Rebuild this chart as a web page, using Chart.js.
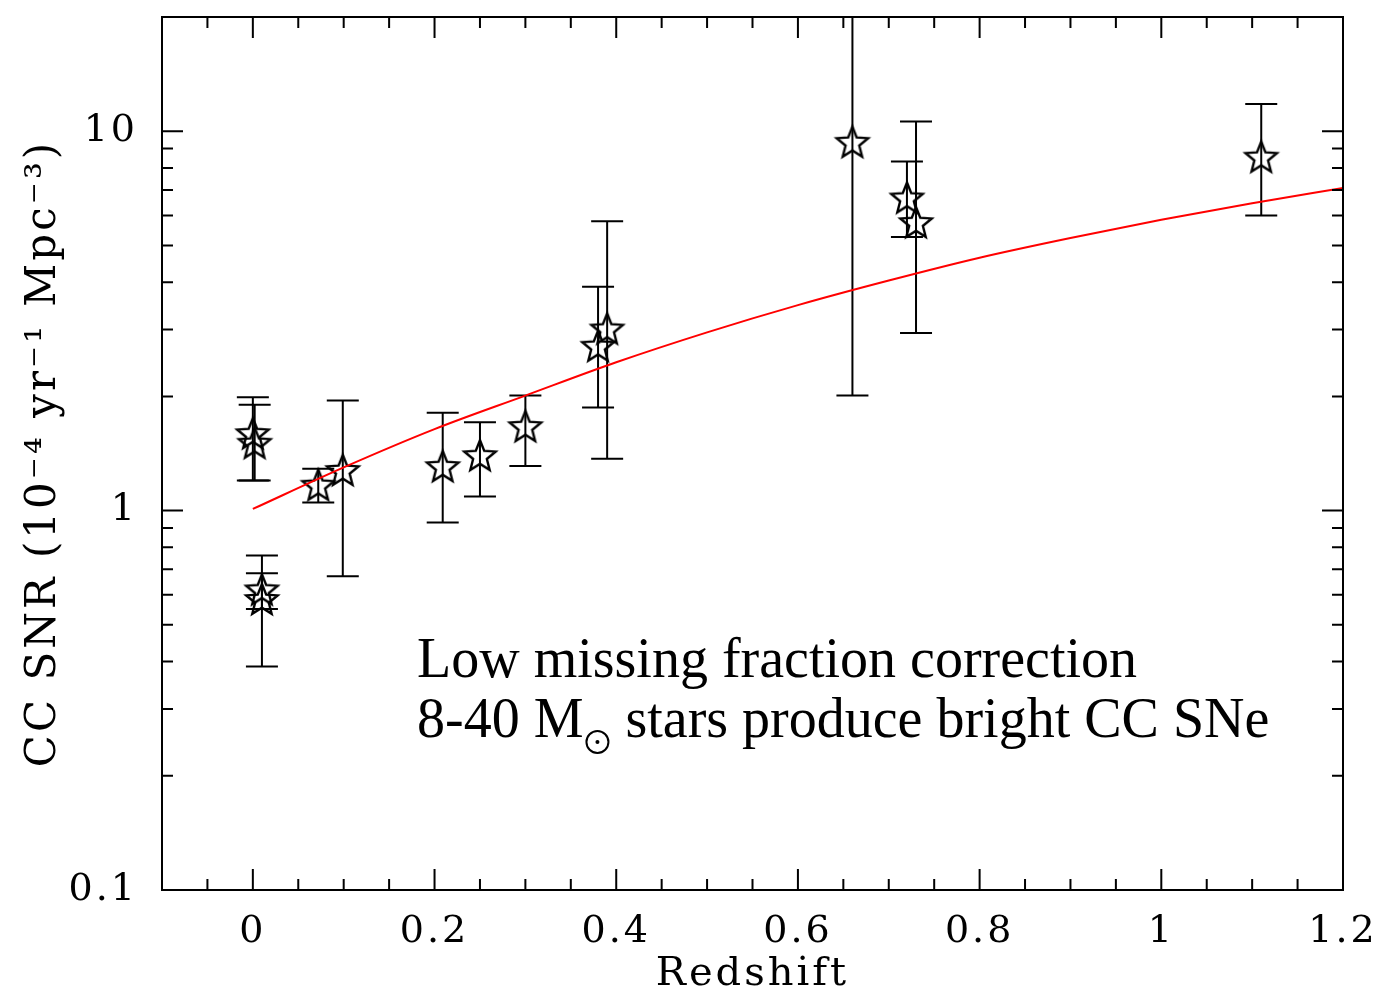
<!DOCTYPE html>
<html>
<head>
<meta charset="utf-8">
<title>CC SNR vs redshift</title>
<script src="https://cdn.jsdelivr.net/npm/chart.js@4.4.1/dist/chart.umd.min.js"></script>
<style>
  html, body { margin: 0; padding: 0; background: #fff; }
</style>
</head>
<body>
<canvas id="snrChart" width="1387" height="997"></canvas>
<script>
// Measured core-collapse SN rates, units of 1e-4 yr^-1 Mpc^-3
const redshift = [0.000, 0.002, 0.010, 0.010, 0.072, 0.099, 0.209, 0.250, 0.300, 0.380, 0.390, 0.660, 0.720, 0.730, 1.110];
const rate     = [1.60, 1.51, 0.62, 0.585, 1.17, 1.28, 1.31, 1.40, 1.67, 2.72, 3.02, 9.38, 6.69, 5.76, 8.57];
const rateHi   = [1.99, 1.90, 0.762, 0.684, 1.29, 1.95, 1.81, 1.71, 2.01, 3.89, 5.79, 30.0, 8.32, 10.6, 11.8];
const rateLo   = [1.20, 1.20, 0.388, 0.550, 1.05, 0.671, 0.93, 1.09, 1.31, 1.87, 1.37, 2.01, 5.26, 2.94, 6.00];

// Model curve (red line)
const modelZ    = [0, 0.1, 0.2, 0.3, 0.4, 0.5, 0.6, 0.7, 0.8, 0.9, 1.0, 1.1, 1.2];
const modelRate = [1.01, 1.30, 1.64, 2.01, 2.46, 2.95, 3.48, 4.04, 4.64, 5.23, 5.84, 6.46, 7.08];

// Axis ticks
const xMajor = [0, 0.2, 0.4, 0.6, 0.8, 1, 1.2];
const xMinor = [-0.1, -0.05, 0.05, 0.1, 0.15, 0.25, 0.3, 0.35, 0.45, 0.5, 0.55, 0.65, 0.7, 0.75,
                0.85, 0.9, 0.95, 1.05, 1.1, 1.15];
const yMajor = [0.1, 1, 10];
const yMinor = [0.2, 0.3, 0.4, 0.5, 0.6, 0.7, 0.8, 0.9, 2, 3, 4, 5, 6, 7, 8, 9, 20];

const AXIS_FONT = "'DejaVu Serif', serif";

// open five-point star used as the marker
function makeStar(size) {
  const c = document.createElement('canvas');
  c.width = size; c.height = size;
  const g = c.getContext('2d');
  const cx = size / 2, cy = size / 2 + 1.5;
  const R = 16.5, r = 7.2;
  g.beginPath();
  for (let i = 0; i < 10; i++) {
    const rad = i % 2 === 0 ? R : r;
    const a = -Math.PI / 2 + i * Math.PI / 5;
    const px = cx + rad * Math.cos(a), py = cy + rad * Math.sin(a);
    if (i === 0) g.moveTo(px, py); else g.lineTo(px, py);
  }
  g.closePath();
  g.lineWidth = 2.4;
  g.lineJoin = 'miter';
  g.strokeStyle = '#000';
  g.stroke();
  return c;
}
const starImg = makeStar(40);

// wider letter spacing for the axis text (the original uses a wide plotter font)
const spacing = {
  id: 'spacing',
  beforeDraw(chart) { chart.ctx.letterSpacing = '3px'; },
  beforeDatasetsDraw(chart) { chart.ctx.letterSpacing = '0px'; }
};

const errorBars = {
  id: 'errorBars',
  beforeDatasetsDraw(chart) {
    const { ctx, chartArea, scales: { x, y } } = chart;
    ctx.save();
    ctx.beginPath();
    ctx.rect(chartArea.left, chartArea.top, chartArea.right - chartArea.left, chartArea.bottom - chartArea.top);
    ctx.clip();
    ctx.strokeStyle = '#000';
    ctx.lineWidth = 2;
    redshift.forEach((z, i) => {
      const px = x.getPixelForValue(z);
      const top = y.getPixelForValue(rateHi[i]);
      const bot = y.getPixelForValue(rateLo[i]);
      ctx.beginPath();
      ctx.moveTo(px, top); ctx.lineTo(px, bot);
      ctx.moveTo(px - 16, top); ctx.lineTo(px + 16, top);
      ctx.moveTo(px - 16, bot); ctx.lineTo(px + 16, bot);
      ctx.stroke();
    });
    ctx.restore();
  }
};

// box frame with inward ticks on all four sides, plus the caption
const frame = {
  id: 'frame',
  afterDraw(chart) {
    const { ctx, chartArea: a, scales: { x, y } } = chart;
    ctx.save();
    ctx.letterSpacing = '0px';
    ctx.strokeStyle = '#000';
    ctx.lineWidth = 2;
    ctx.strokeRect(a.left, a.top, a.right - a.left, a.bottom - a.top);
    ctx.beginPath();
    const xt = (v, len) => {
      const p = x.getPixelForValue(v);
      ctx.moveTo(p, a.bottom); ctx.lineTo(p, a.bottom - len);
      ctx.moveTo(p, a.top); ctx.lineTo(p, a.top + len);
    };
    const yt = (v, len) => {
      const p = y.getPixelForValue(v);
      ctx.moveTo(a.left, p); ctx.lineTo(a.left + len, p);
      ctx.moveTo(a.right, p); ctx.lineTo(a.right - len, p);
    };
    xMajor.forEach(v => xt(v, 21));
    xMinor.forEach(v => xt(v, 11));
    yMajor.forEach(v => yt(v, 21));
    yMinor.forEach(v => yt(v, 11));
    ctx.stroke();

    ctx.fillStyle = '#000';
    ctx.textBaseline = 'alphabetic';
    ctx.textAlign = 'left';
    ctx.font = "56px 'Liberation Serif', 'Times New Roman', serif";
    ctx.fillText('Low missing fraction correction', 417, 677);
    const first = '8-40 M';
    ctx.fillText(first, 417, 737);
    const w = ctx.measureText(first).width;
    const sx = 417 + w + 14, sy = 742;
    ctx.beginPath();
    ctx.lineWidth = 2;
    ctx.arc(sx, sy, 11, 0, Math.PI * 2);
    ctx.stroke();
    ctx.beginPath();
    ctx.arc(sx, sy, 2, 0, Math.PI * 2);
    ctx.fill();
    ctx.fillText(' stars produce bright CC SNe', sx + 14, 737);
    ctx.restore();
  }
};

new Chart(document.getElementById('snrChart'), {
  type: 'scatter',
  data: {
    datasets: [
      {
        label: 'model',
        type: 'line',
        data: modelZ.map((z, i) => ({ x: z, y: modelRate[i] })),
        borderColor: '#ff0000',
        borderWidth: 2,
        pointRadius: 0,
        fill: false,
        cubicInterpolationMode: 'monotone'
      },
      {
        label: 'CC SNR',
        data: redshift.map((z, i) => ({ x: z, y: rate[i] })),
        pointStyle: starImg,
        pointRadius: 16
      }
    ]
  },
  options: {
    responsive: false,
    animation: false,
    devicePixelRatio: 1,
    layout: { padding: { left: 0, right: 44, top: 12, bottom: 0 } },
    plugins: { legend: { display: false }, tooltip: { enabled: false } },
    scales: {
      x: {
        type: 'linear',
        min: -0.1,
        max: 1.2,
        afterFit: s => { s.height = 107; s.paddingLeft = 0; s.paddingRight = 0; },
        afterBuildTicks: s => { s.ticks = xMajor.map(v => ({ value: v })); },
        grid: { display: false, drawTicks: false },
        border: { display: false },
        ticks: {
          color: '#000',
          padding: 19,
          maxRotation: 0,
          font: { family: AXIS_FONT, size: 38 },
          callback: v => String(Math.round(v * 10) / 10)
        },
        title: {
          display: true,
          text: 'Redshift',
          color: '#000',
          padding: { top: 0, bottom: -2 },
          font: { family: AXIS_FONT, size: 40 }
        }
      },
      y: {
        type: 'logarithmic',
        min: 0.1,
        max: 20,
        afterFit: s => { s.width = 162; s.paddingTop = 0; s.paddingBottom = 0; },
        afterBuildTicks: s => { s.ticks = yMajor.map(v => ({ value: v })); },
        grid: { display: false, drawTicks: false },
        border: { display: false },
        ticks: {
          color: '#000',
          padding: 24,
          font: { family: AXIS_FONT, size: 38 },
          callback: v => String(v)
        },
        title: {
          display: true,
          text: 'CC SNR (10\u207B\u2074 yr\u207B\u00B9 Mpc\u207B\u00B3)',
          color: '#000',
          padding: { top: 19, bottom: 0 },
          font: { family: AXIS_FONT, size: 42 }
        }
      }
    }
  },
  plugins: [spacing, errorBars, frame]
});
</script>
</body>
</html>
